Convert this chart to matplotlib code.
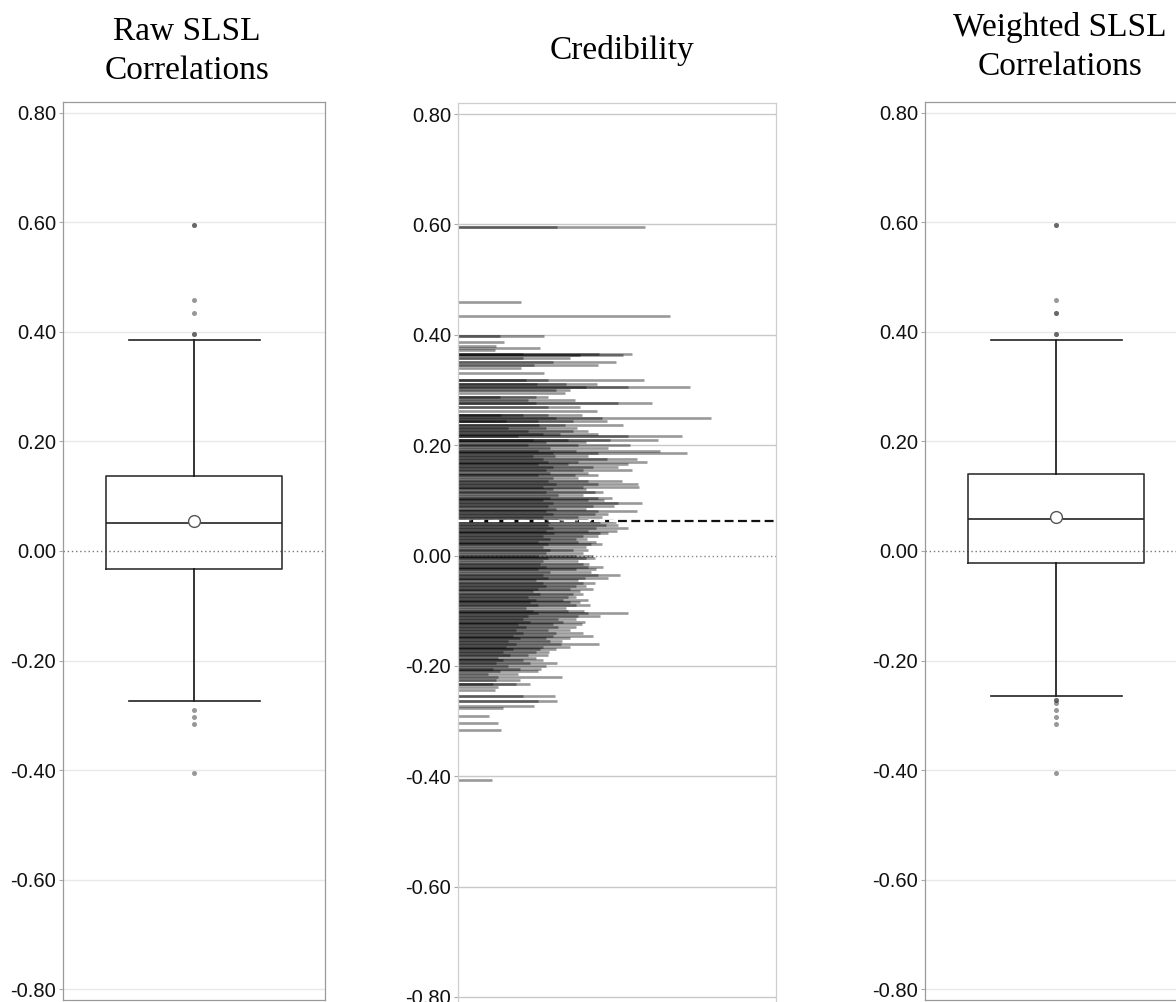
import matplotlib
matplotlib.use("Agg")
import matplotlib.pyplot as plt
from matplotlib.collections import LineCollection

W, H = 1176, 1002

y_ticks = [0.8, 0.6, 0.4, 0.2, 0.0, -0.2, -0.4, -0.6, -0.8]
y_tick_labels = ["%.2f" % t for t in y_ticks]
titles = ["Raw SLSL\nCorrelations", "Credibility", "Weighted SLSL\nCorrelations"]

# five-number summaries, means and outliers of the study correlations
raw_stats = dict(q1=-0.033, med=0.051, q3=0.137, whislo=-0.274, whishi=0.385, mean=0.054)
raw_outliers = [0.595, 0.595, 0.459, 0.434, 0.397, 0.397, -0.290, -0.303, -0.316, -0.406]
wtd_stats = dict(q1=-0.022, med=0.058, q3=0.141, whislo=-0.265, whishi=0.385, mean=0.062)
wtd_outliers = [0.595, 0.595, 0.459, 0.434, 0.434, 0.397, 0.397,
                -0.272, -0.272, -0.277, -0.290, -0.303, -0.316, -0.406]
weighted_mean = 0.063

# credibility: one row per correlation value, one weight per study on that row
row_r = [
    0.595, 0.460, 0.434, 0.397, 0.386, 0.380, 0.376, 0.372, 0.366, 0.363,
    0.357, 0.350, 0.346, 0.339, 0.330, 0.318, 0.310, 0.305, 0.300, 0.295,
    0.287, 0.281, 0.276, 0.270, 0.262, 0.255, 0.250, 0.243, 0.237, 0.231,
    0.225, 0.220, 0.216, 0.210, 0.205, 0.200, 0.195, 0.190, 0.185, 0.180,
    0.175, 0.170, 0.165, 0.160, 0.155, 0.150, 0.145, 0.140, 0.135, 0.130,
    0.125, 0.120, 0.115, 0.110, 0.105, 0.100, 0.095, 0.090, 0.085, 0.080,
    0.075, 0.070, 0.065, 0.060, 0.055, 0.050, 0.045, 0.040, 0.035, 0.030,
    0.025, 0.020, 0.015, 0.010, 0.005, 0.000, -0.005, -0.010, -0.015, -0.020,
    -0.025, -0.030, -0.035, -0.040, -0.045, -0.050, -0.055, -0.060, -0.065, -0.070,
    -0.075, -0.080, -0.085, -0.090, -0.095, -0.100, -0.105, -0.110, -0.115, -0.120,
    -0.125, -0.130, -0.135, -0.140, -0.145, -0.150, -0.155, -0.160, -0.165, -0.170,
    -0.175, -0.180, -0.185, -0.190, -0.195, -0.200, -0.205, -0.210, -0.215, -0.220,
    -0.226, -0.232, -0.238, -0.243, -0.254, -0.264, -0.272, -0.276, -0.290, -0.303,
    -0.316, -0.406,
]
row_weights = [
    [99, 187], [63], [212], [42, 86], [46], [38], [82], [37], [65, 141, 174], [122, 165],
    [65, 112], [95, 158], [76, 140], [63], [86], [68, 90, 186], [79, 108, 139], [128, 170, 232], [98, 112], [107],
    [42, 78, 90], [70, 117], [78, 160, 194], [90, 122], [139], [43, 65, 90, 124], [98, 144, 253], [48, 80, 115, 149], [81, 107, 165], [50, 88, 119],
    [70, 115, 130], [85, 102, 140], [60, 170, 224], [75, 110, 152, 200], [88, 128], [70, 120, 172], [92, 150], [80, 118, 202], [95, 140, 229], [75, 97, 130],
    [85, 149, 179], [90, 120, 189], [80, 110, 170], [95, 135, 160], [88, 125, 174], [92, 130], [80, 117, 140], [95, 120], [90, 130, 164], [98, 140, 180],
    [85, 125, 181], [95, 128], [88, 137, 145], [100, 125], [92, 140, 154], [85, 130, 146], [95, 160, 184], [90, 135, 156], [98, 128], [88, 140, 179],
    [95, 137, 150], [85, 120, 144], [100, 130], [92, 142, 158], [90, 148, 160], [95, 138, 170], [88, 130, 159], [96, 142, 150], [85, 125, 140], [92, 118, 129],
    [80, 120, 138], [90, 133, 144], [85, 128], [92, 115, 130], [88, 125], [80, 118, 135], [90, 128, 137], [85, 120], [82, 125, 131], [88, 130, 145],
    [80, 118, 138], [92, 133], [85, 140, 162], [90, 127, 150], [78, 120], [85, 125, 137], [88, 118, 128], [80, 112, 135], [75, 122], [82, 115, 125],
    [70, 110, 118], [78, 105, 130], [72, 112, 122], [80, 118, 132], [68, 108], [75, 110, 126], [80, 130, 170], [70, 120, 142], [65, 100, 118], [72, 105, 127],
    [60, 95, 124], [68, 100, 118], [58, 90, 112], [65, 98, 125], [55, 95, 135], [62, 88, 112], [50, 92, 104], [58, 103, 141], [48, 85, 112], [55, 82, 98],
    [45, 78, 91], [52, 70, 90], [40, 78], [45, 65, 85], [38, 72, 99], [50, 88], [35, 62, 83], [42, 80], [30, 60], [40, 104],
    [38, 62], [35, 58, 72], [40], [37], [65, 97], [80, 99], [76], [45], [31], [40],
    [43], [34],
]

fig = plt.figure(figsize=(W / 100, H / 100), dpi=100)


def add_axes_px(x0, y0, x1, y1):
    return fig.add_axes([x0 / W, 1 - y1 / H, (x1 - x0) / W, (y1 - y0) / H])


def style_y(ax, spine_color):
    ax.set_ylim(-0.82, 0.82)
    ax.set_yticks(y_ticks, labels=y_tick_labels)
    ax.set_xticks([])
    ax.tick_params(axis="y", length=3, width=0.8, color="#aaaaaa", pad=2,
                   labelsize=14.5, labelcolor="#111111")
    for lbl in ax.get_yticklabels():
        lbl.set_family("Liberation Sans")
    for s in ax.spines.values():
        s.set_color(spine_color)
        s.set_linewidth(0.9)


def draw_box(ax, stats, outliers):
    style_y(ax, "#9a9a9a")
    ax.set_xlim(0, 1)
    for t in y_ticks:
        if t != 0:
            ax.axhline(t, color="#e8e8e8", lw=1.0, zorder=0)
    ax.axhline(0, color="#777777", lw=1.0, ls=(0, (1, 2)), zorder=1)
    bs = dict(stats, fliers=[])
    ax.bxp([bs], positions=[0.5], widths=[0.668], capwidths=[0.5],
           showmeans=True, showfliers=False, manage_ticks=False,
           boxprops=dict(color="#333333", lw=1.2),
           whiskerprops=dict(color="#111111", lw=1.2),
           capprops=dict(color="#222222", lw=1.2),
           medianprops=dict(color="#222222", lw=1.2),
           meanprops=dict(marker="o", markerfacecolor="white",
                          markeredgecolor="#555555", markersize=8.5,
                          markeredgewidth=1.0))
    ax.plot([0.5] * len(outliers), outliers, "o", color="#444444",
            alpha=0.55, markersize=3.6, markeredgewidth=0, zorder=4)


ax1 = add_axes_px(63, 102, 325, 1000)
draw_box(ax1, raw_stats, raw_outliers)

ax3 = add_axes_px(925, 102, 1187, 1000)
draw_box(ax3, wtd_stats, wtd_outliers)

# credibility panel
ax2 = add_axes_px(458, 103, 776, 1008)
style_y(ax2, "#cfcfcf")
ax2.set_xlim(0, 318)
for t in y_ticks:
    if t != 0:
        ax2.axhline(t, color="#c8c8c8", lw=1.0, zorder=0)
ax2.axhline(0, color="#888888", lw=1.0, ls=(0, (1, 2)), zorder=1)
ax2.axhline(weighted_mean, color="#111111", lw=1.6, ls=(0, (4, 2)), zorder=1)

segs = []
for r, ws in zip(row_r, row_weights):
    for w in ws:
        segs.append([(0, r), (w, r)])
lc = LineCollection(segs, colors="black", alpha=0.4, linewidths=1.9, zorder=2)
ax2.add_collection(lc)

# white dashes over the study lines near the mean
near = [max(ws) for r, ws in zip(row_r, row_weights) if abs(r - weighted_mean) < 0.012]
ax2.plot([0, max(near)], [weighted_mean] * 2, color="white", lw=1.6,
         ls=(0, (5, 1.8)), zorder=3)

centers = [187, 622, 1060]
title_y = [51, 51, 47]
for cx, cy, txt in zip(centers, title_y, titles):
    fig.text(cx / W, 1 - cy / H, txt, ha="center", va="center",
             family="Liberation Serif", size=24, linespacing=1.35)

fig.savefig("out.png", dpi=100)
